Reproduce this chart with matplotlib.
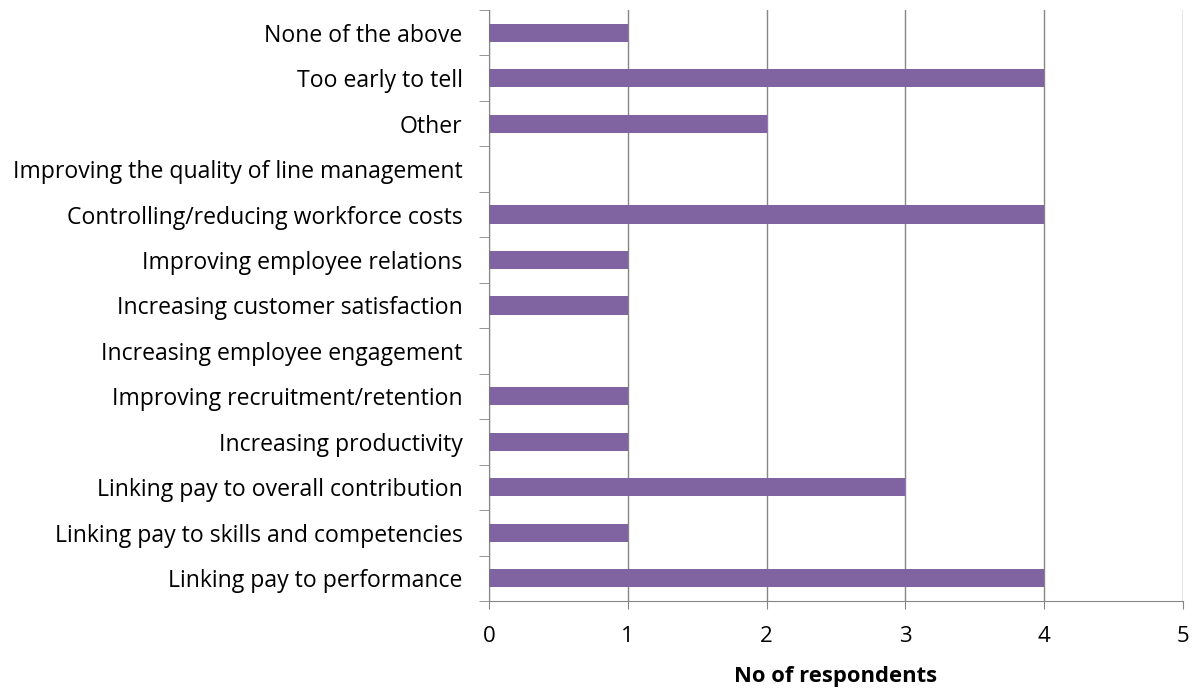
import matplotlib
matplotlib.use("Agg")
import matplotlib.pyplot as plt
import numpy as np

# survey responses, listed bottom to top
categories = [
    "Linking pay to performance",
    "Linking pay to skills and competencies",
    "Linking pay to overall contribution",
    "Increasing productivity",
    "Improving recruitment/retention",
    "Increasing employee engagement",
    "Increasing customer satisfaction",
    "Improving employee relations",
    "Controlling/reducing workforce costs",
    "Improving the quality of line management",
    "Other",
    "Too early to tell",
    "None of the above",
]
respondents = [4, 1, 3, 1, 1, 0, 1, 1, 4, 0, 2, 4, 1]
x_ticks = [0, 1, 2, 3, 4, 5]

plt.rcParams['font.family'] = ['Open Sans', 'DejaVu Sans']

fig = plt.figure(figsize=(11.94, 6.88), dpi=100)
ax = fig.add_axes([0.4095, 0.1265, 0.5813, 0.859])

pos = np.arange(len(categories))
ax.barh(pos, respondents, height=0.4, color='#8064A2', zorder=3)

ax.set_xlim(0, 5)
ax.set_ylim(-0.5, len(categories) - 0.5)
ax.set_xticks(x_ticks)
ax.set_xticklabels([str(t) for t in x_ticks], fontsize=16)
ax.xaxis.grid(True, color='#868686', linewidth=1, zorder=0)

# category labels in the middle, tick marks on the boundaries
ax.set_yticks(pos)
ax.set_yticklabels(categories, fontsize=16.6)
ax.set_yticks(np.arange(len(categories) + 1) - 0.5, minor=True)
ax.tick_params(axis='y', which='major', length=0, pad=19)
ax.tick_params(axis='y', which='minor', length=7, color='#868686')
ax.tick_params(axis='x', length=6, color='#868686', pad=12)

for side in ['top', 'right']:
    ax.spines[side].set_visible(False)
for side in ['left', 'bottom']:
    ax.spines[side].set_color('#868686')

ax.set_xlabel('No of respondents', fontsize=15.8, fontweight='bold', labelpad=14)

fig.savefig('out.png', dpi=100)
